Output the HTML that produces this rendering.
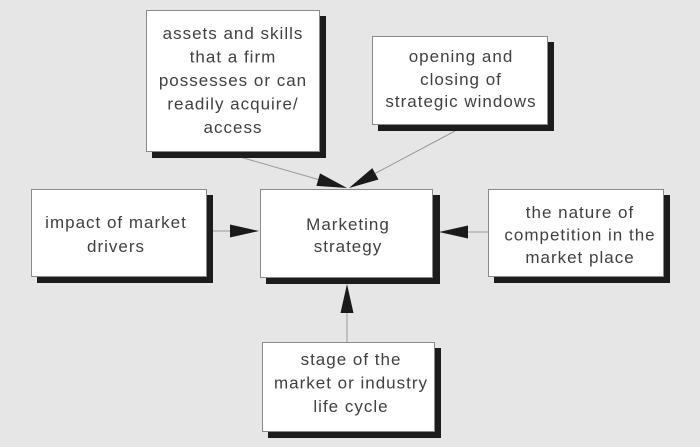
<!DOCTYPE html>
<html><head><meta charset="utf-8"><style>
html,body{margin:0;padding:0;background:#e6e6e6;}
svg{display:block;}
text{font-family:"Liberation Sans",Arial,sans-serif;font-size:17px;letter-spacing:1px;fill:#404040;text-anchor:middle;}
</style></head><body>
<svg width="700" height="447" viewBox="0 0 700 447" xmlns="http://www.w3.org/2000/svg">
<rect x="0" y="0" width="700" height="447" fill="#e6e6e6"/>
<!-- connector lines -->
<g stroke="#9a9a9a" stroke-width="1" fill="none">
<line x1="240" y1="157" x2="320" y2="180"/>
<line x1="455" y1="131" x2="374" y2="174"/>
<line x1="207" y1="231" x2="232" y2="231"/>
<line x1="466" y1="232" x2="488" y2="232"/>
<line x1="347" y1="311" x2="347" y2="342"/>
</g>
<!-- shadows -->
<g fill="#1c1c1c">
<rect x="152" y="16" width="174" height="142"/>
<rect x="378" y="42" width="176" height="89"/>
<rect x="37" y="195" width="176" height="88"/>
<rect x="266" y="195" width="174" height="89"/>
<rect x="494" y="195" width="176" height="88"/>
<rect x="268" y="348" width="173" height="90"/>
</g>
<!-- boxes -->
<g fill="#ffffff" stroke="#8a8a8a" stroke-width="1">
<rect x="146.5" y="10.5" width="173" height="141"/>
<rect x="372.5" y="36.5" width="175" height="88"/>
<rect x="31.5" y="189.5" width="175" height="87"/>
<rect x="260.5" y="189.5" width="172" height="88"/>
<rect x="488.5" y="189.5" width="175" height="87"/>
<rect x="262.5" y="342.5" width="172" height="89"/>
</g>
<!-- arrowheads -->
<g fill="#1a1a1a">
<polygon points="347,188 316.4,185.9 320.0,173.4"/>
<polygon points="349,188 372.3,168.1 378.5,179.5"/>
<polygon points="259,231 230,224.5 230,237.5"/>
<polygon points="439,232 468,225.5 468,238.5"/>
<polygon points="347,284 340.5,313 353.5,313"/>
</g>
<!-- text -->
<text x="233" y="39">assets and skills</text>
<text x="233" y="62.5">that a firm</text>
<text x="233" y="86">possesses or can</text>
<text x="233" y="109.5">readily acquire/</text>
<text x="233" y="133">access</text>

<text x="461" y="62">opening and</text>
<text x="461" y="85">closing of</text>
<text x="461" y="107">strategic windows</text>

<text x="116" y="228">impact of market</text>
<text x="116" y="252">drivers</text>

<text x="348" y="230">Marketing</text>
<text x="348" y="252">strategy</text>

<text x="580" y="218">the nature of</text>
<text x="580" y="240.5">competition in the</text>
<text x="580" y="263">market place</text>

<text x="351" y="365">stage of the</text>
<text x="351" y="388.5">market or industry</text>
<text x="351" y="412">life cycle</text>
</svg>
</body></html>
